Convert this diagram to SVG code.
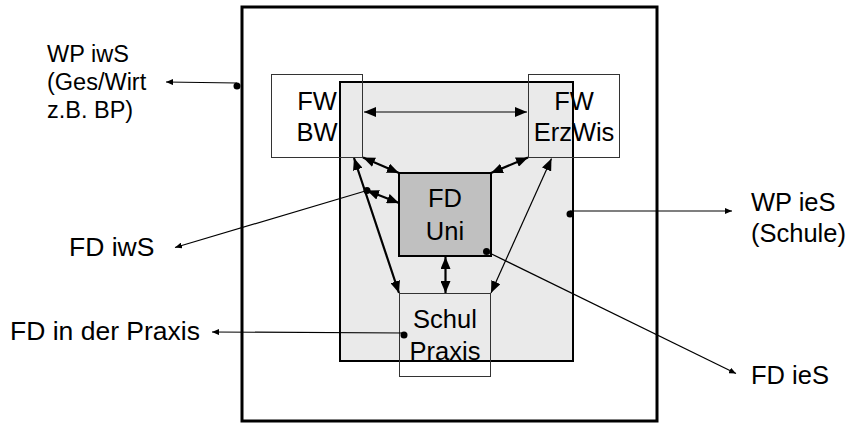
<svg xmlns="http://www.w3.org/2000/svg" width="851" height="423" viewBox="0 0 851 423">
<style>
text{font-family:"Liberation Sans",Arial,sans-serif;font-size:25.5px;fill:#000}
.c{text-anchor:middle}
.w{font-size:23.5px}
.l{font-size:26.5px}
.thin{stroke:#000;stroke-width:1.2;fill:none}
.thick{stroke:#000;stroke-width:2.2;fill:none}
.box{fill:none;stroke:#333;stroke-width:1}
</style>
<defs>
<marker id="big" viewBox="0 0 12 10" refX="12" refY="5" markerWidth="12" markerHeight="10" markerUnits="userSpaceOnUse" orient="auto-start-reverse"><path d="M0,0 L12,5 L0,10 z" fill="#000"/></marker>
<marker id="small" viewBox="0 0 7 6" refX="7" refY="3" markerWidth="7" markerHeight="6" markerUnits="userSpaceOnUse" orient="auto-start-reverse"><path d="M0,0 L7,3 L0,6 z" fill="#000"/></marker>
</defs>
<g id="outer"><rect x="242" y="7" width="415" height="414" fill="#fff" stroke="#000" stroke-width="3"/></g>
<g id="inner"><rect x="340" y="82" width="233" height="279" fill="#eaeaea" stroke="#000" stroke-width="2"/></g>
<g id="fdUni"><rect x="399" y="173" width="92" height="83" fill="#c0c0c0" stroke="#000" stroke-width="2"/><text class="c" x="445" y="207">FD</text><text class="c" x="445" y="240">Uni</text></g>
<g id="fwBW"><rect class="box" x="271.5" y="74.5" width="91" height="83"/><text class="c" x="317" y="110">FW</text><text class="c" x="317" y="141">BW</text></g>
<g id="fwErzWis"><rect class="box" x="528.5" y="74.5" width="91" height="83"/><text class="c" x="574" y="110">FW</text><text class="c" x="574" y="141">ErzWis</text></g>
<g id="schulPraxis"><rect class="box" x="399.5" y="293.5" width="91" height="83"/><text class="c" x="445" y="328">Schul</text><text class="c" x="445" y="359.5">Praxis</text></g>
<g id="lblWPiwS"><text class="w" x="47" y="61.7">WP iwS</text><text class="w" x="47" y="90">(Ges/Wirt</text><text class="w" x="47" y="118.3">z.B. BP)</text></g>
<g id="lblFDiwS"><text class="l" x="69" y="256">FD iwS</text></g>
<g id="lblFDPraxis"><text class="l" x="10" y="340">FD in der Praxis</text></g>
<g id="lblWPieS"><text x="751" y="211">WP ieS</text><text x="751" y="241.5">(Schule)</text></g>
<g id="lblFDieS"><text x="751" y="384">FD ieS</text></g>
<g id="connectors">
<line class="thin" x1="364" y1="112" x2="527" y2="112" marker-start="url(#big)" marker-end="url(#big)"/>
<line class="thick" x1="363" y1="157.5" x2="399" y2="173" marker-start="url(#big)" marker-end="url(#big)"/>
<line class="thick" x1="491" y1="173" x2="528" y2="157.5" marker-start="url(#big)" marker-end="url(#big)"/>
<line class="thick" x1="354" y1="158" x2="399" y2="293" marker-start="url(#big)" marker-end="url(#big)"/>
<line class="thick" x1="367" y1="190.5" x2="399" y2="203" marker-start="url(#big)" marker-end="url(#big)"/>
<line class="thick" x1="445.5" y1="257" x2="445.5" y2="293" marker-start="url(#big)" marker-end="url(#big)"/>
<line class="thin" x1="491" y1="293" x2="551.5" y2="158.5" marker-start="url(#big)" marker-end="url(#big)"/>
<circle cx="237" cy="86" r="3.5"/>
<line class="thin" x1="237" y1="83" x2="166" y2="82" marker-end="url(#small)"/>
<circle cx="367" cy="190.5" r="3.5"/>
<line class="thin" x1="367" y1="190.5" x2="175" y2="247.5" marker-end="url(#small)"/>
<circle cx="404" cy="335" r="3.5"/>
<line class="thin" x1="404" y1="333" x2="212" y2="332" marker-end="url(#small)"/>
<circle cx="570" cy="214" r="3.5"/>
<line class="thin" x1="570" y1="211" x2="732" y2="211" marker-end="url(#small)"/>
<circle cx="486.5" cy="251.5" r="3.5"/>
<line class="thin" x1="486.5" y1="251.5" x2="736" y2="373.5" marker-end="url(#small)"/>
</g>
</svg>
